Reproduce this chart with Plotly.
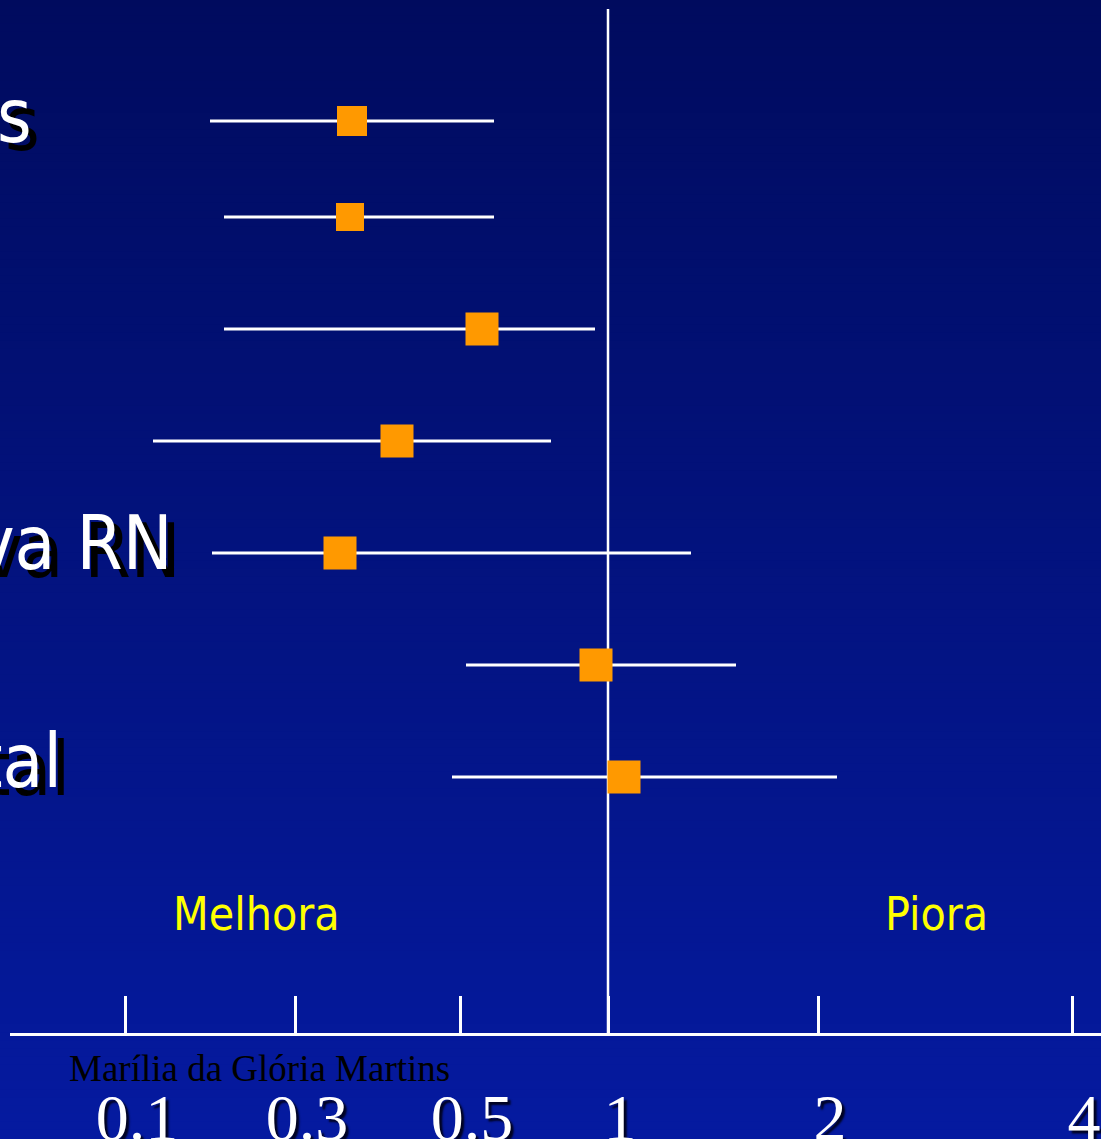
import numpy as np
import plotly.graph_objects as go

# ---------------- data ----------------
# Rows of the forest plot (top -> bottom). Only the tails of three labels are visible
# in the cropped slide; the other labels lie entirely outside the picture.
row_labels = ["Óbitos neonatais", None, None, None, "Infecção invasiva RN", None, "Óbito fetal"]
# Values in units of the slide's hand-drawn (non-uniform) effect axis
estimate = [352, 350, 482, 397, 340, 596, 624]
ci_low = [210, 224, 224, 153, 212, 466, 452]
ci_high = [494, 494, 595, 551, 691, 736, 837]
# Axis ticks: position on the drawn axis and printed label
tick_pos = [125, 295, 460, 608, 818, 1072]
tick_text = ["0.1", "0.3", "0.5", "1", "2", "4"]
no_effect = 608  # position of "1"
side_labels = ["Melhora", "Piora"]
author = "Marília da Glória Martins"

# ---------------- layout constants ----------------
W, H = 1101, 1139
B = 106                       # bottom margin (axis line sits at H - B)
plot_h = H - B
row_y = [121, 217, 329, 441, 553, 665, 777]      # vertical row positions (axis units = px)
label_right = [34, None, None, None, 175, None, 64]
label_dy = [-6, 0, 0, 0, -10, 0, -17]
marker_size = [30, 28, 33, 33, 33, 33, 33]

SANS = "Tahoma, 'DejaVu Sans Condensed', 'Liberation Sans', sans-serif"
SERIF = "'Times New Roman', 'Liberation Serif', serif"

fig = go.Figure()

# confidence intervals + point estimates
fig.add_trace(go.Scatter(
    x=estimate, y=row_y, mode="markers",
    marker=dict(symbol="square", size=marker_size, color="#FF9900", opacity=1,
                line=dict(width=0)),
    error_x=dict(type="data", symmetric=False,
                 array=[h - e for h, e in zip(ci_high, estimate)],
                 arrayminus=[e - l for e, l in zip(estimate, ci_low)],
                 color="white", thickness=3, width=0),
    hoverinfo="skip", showlegend=False, cliponaxis=False,
))

shapes = []
# vertical gradient background
n = 140
top = np.array([0, 11, 94])
bot = np.array([5, 26, 160])
y_bottom = -B / plot_h
for i in range(n):
    t = (i + 0.5) / n
    c = top + (bot - top) * t
    y1 = 1 - (1 - y_bottom) * i / n
    y0 = 1 - (1 - y_bottom) * (i + 1) / n
    shapes.append(dict(type="rect", xref="paper", yref="paper", x0=0, x1=1,
                       y0=y0, y1=y1 + 0.001, line=dict(width=0),
                       fillcolor="rgb(%d,%d,%d)" % tuple(np.round(c)), layer="below"))
# line of no effect
shapes.append(dict(type="line", xref="x", yref="y", x0=no_effect, x1=no_effect,
                   y0=9, y1=plot_h, line=dict(color="white", width=2.5), layer="below"))

annotations = []
for lab, xr, y, dy in zip(row_labels, label_right, row_y, label_dy):
    if lab is None:
        continue
    annotations.append(dict(text=lab, x=xr, y=y + dy, xref="x", yref="y",
                            xanchor="right", yanchor="middle", showarrow=False,
                            font=dict(family=SANS, size=74, color="white",
                                      shadow="8px 8px 0px black")))
annotations.append(dict(text=side_labels[0], x=256, y=914, xref="x", yref="y",
                        showarrow=False, font=dict(family=SANS, size=46, color="#FFFF00")))
annotations.append(dict(text=side_labels[1], x=936, y=914, xref="x", yref="y",
                        showarrow=False, font=dict(family=SANS, size=46, color="#FFFF00")))
annotations.append(dict(text=author, x=67 / W, y=-35 / plot_h, xref="paper", yref="paper",
                        xanchor="left", yanchor="middle", showarrow=False,
                        font=dict(family=SERIF, size=37, color="black")))

fig.update_layout(
    template="none",
    width=W, height=H,
    margin=dict(l=0, r=0, t=0, b=B, pad=0),
    paper_bgcolor="rgb(5,26,160)",
    plot_bgcolor="rgba(0,0,0,0)",
    shapes=shapes,
    annotations=annotations,
    showlegend=False,
    xaxis=dict(domain=[10 / W, 1], range=[10, W], showgrid=False, zeroline=False,
               showline=True, linecolor="white", linewidth=3,
               ticks="inside", ticklen=37, tickwidth=2.5, tickcolor="white",
               tickmode="array", tickvals=tick_pos, ticktext=tick_text,
               tickfont=dict(family=SERIF, size=66, color="white",
                             shadow="3px 3px 2px rgba(0,0,20,0.9)"),
               ticklabelstandoff=25, ticklabelshift=12, automargin=False, fixedrange=True),
    yaxis=dict(range=[plot_h, 0], visible=False, automargin=False, fixedrange=True),
)

fig.write_html("out.html", config={"displayModeBar": False},
               post_script="document.body.style.margin='0';document.body.style.overflow='hidden';")
